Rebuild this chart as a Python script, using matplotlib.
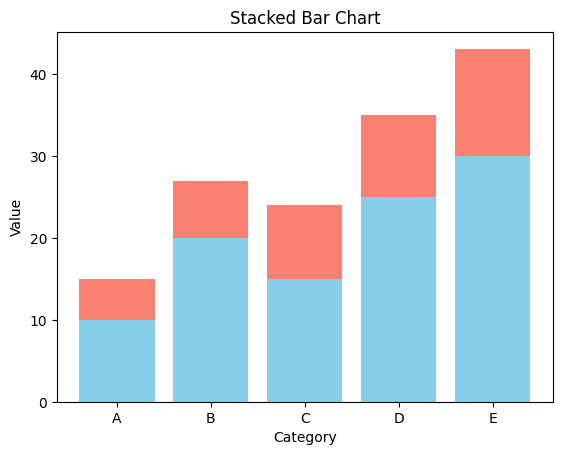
import matplotlib.pyplot as plt

categories = ['A', 'B', 'C', 'D', 'E']
values1 = [10, 20, 15, 25, 30]
values2 = [5, 7, 9, 10, 13]

fig, ax = plt.subplots(figsize=(5.62, 4.55), dpi=100)
fig.subplots_adjust(left=0.101, right=0.984, top=0.930, bottom=0.116)

ax.bar(categories, values1, color='skyblue')
ax.bar(categories, values2, bottom=values1, color='salmon')
ax.set_xlabel('Category')
ax.set_ylabel('Value')
ax.set_title('Stacked Bar Chart')

fig.savefig('out.png', dpi=100)
